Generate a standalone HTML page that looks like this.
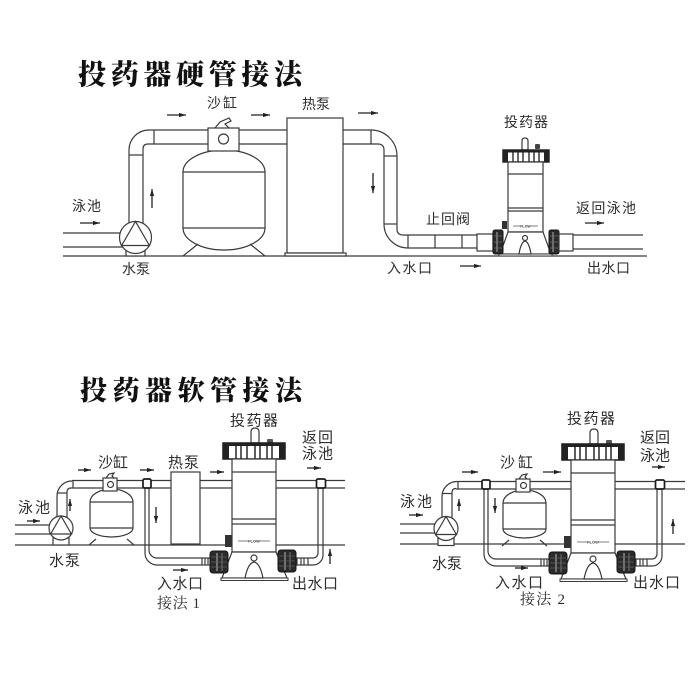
<!DOCTYPE html>
<html><head><meta charset="utf-8">
<style>
html,body{margin:0;padding:0;background:#fff;}
svg{display:block;}
.l{fill:none;stroke:#3a3a3a;stroke-width:1.2;}
.w{fill:#fff;stroke:#3a3a3a;stroke-width:1.2;}
.d{fill:#2a2a2a;stroke:#151515;stroke-width:1;}
.a{stroke:#222;stroke-width:1.3;marker-end:url(#ah);}
.t{font-family:"Liberation Sans","Noto Sans CJK SC",sans-serif;fill:#2e2e2e;}
.s{font-family:"Liberation Serif","Noto Serif CJK SC",serif;fill:#2e2e2e;}
.ttl{font-family:"Liberation Serif","Noto Serif CJK SC",serif;font-weight:900;fill:#111;}
</style></head><body>
<svg width="700" height="700" viewBox="0 0 700 700" xmlns="http://www.w3.org/2000/svg">
<defs>
<marker id="ah" viewBox="0 0 10 6" refX="10" refY="3" markerWidth="7" markerHeight="4.5" orient="auto" markerUnits="userSpaceOnUse"><path d="M0,0 L10,3 L0,6 Z" fill="#222"/></marker>

<!-- union nut -->
<g id="nutT">
<rect x="0" y="0" width="10" height="24" rx="2" class="d"/>
<line x1="4" y1="2" x2="4" y2="22" stroke="#bbb" stroke-width="0.9"/>
<line x1="1" y1="6" x2="9" y2="6" stroke="#777" stroke-width="0.7"/>
<line x1="1" y1="12" x2="9" y2="12" stroke="#777" stroke-width="0.7"/>
<line x1="1" y1="18" x2="9" y2="18" stroke="#777" stroke-width="0.7"/>
</g>
<g id="nutB">
<rect x="0" y="0" width="18" height="22" rx="3" class="d"/>
<line x1="7" y1="2" x2="7" y2="20" stroke="#bbb" stroke-width="1"/>
<line x1="12" y1="2" x2="12" y2="20" stroke="#888" stroke-width="0.8"/>
<line x1="1" y1="6" x2="17" y2="6" stroke="#666" stroke-width="0.7"/>
<line x1="1" y1="11" x2="17" y2="11" stroke="#666" stroke-width="0.7"/>
<line x1="1" y1="16" x2="17" y2="16" stroke="#666" stroke-width="0.7"/>
</g>

<!-- bottom feeder with hoses (diagram-1 coords) -->
<g id="fd">
<!-- left hose -->
<path class="l" d="M145,486 L145,553 A12,12 0 0 0 157,565 L202,565"/>
<path class="l" d="M149,486 L149,550 A8,8 0 0 0 157,558 L202,558"/>
<rect x="143" y="479" width="8" height="9" rx="1.5" fill="#fff" stroke="#1a1a1a" stroke-width="1.7"/>
<!-- right hose -->
<path class="l" d="M308,565 L313,565 A10,10 0 0 0 323,555 L323,486"/>
<path class="l" d="M308,558 L313,558 A5,5 0 0 0 318,553 L318,486"/>
<rect x="316.5" y="479" width="9" height="9" rx="1.5" fill="#fff" stroke="#1a1a1a" stroke-width="1.7"/>
<!-- knob -->
<path class="w" d="M251,443 L251,432 Q251,428 255,428 Q259,428 259,432 L259,443 Z"/>
<rect x="267" y="439" width="6" height="4" rx="1" fill="#555"/>
<!-- cap -->
<rect x="223" y="443" width="62" height="16" fill="#fff" stroke="#1a1a1a" stroke-width="1.5"/>
<rect x="223" y="443" width="62" height="3" fill="#222"/>
<rect x="223" y="443" width="6" height="16" fill="#222"/>
<rect x="279" y="443" width="6" height="16" fill="#222"/>
<g stroke="#1a1a1a" stroke-width="1.4">
<line x1="236" y1="445" x2="236" y2="459"/><line x1="241" y1="445" x2="241" y2="459"/>
<line x1="247" y1="445" x2="247" y2="459"/><line x1="255" y1="445" x2="255" y2="459"/>
<line x1="260" y1="445" x2="260" y2="459"/><line x1="267" y1="445" x2="267" y2="459"/>
<line x1="272" y1="445" x2="272" y2="459"/>
</g>
<!-- body -->
<rect class="w" x="232" y="459" width="44" height="93"/>
<line class="l" x1="232" y1="472" x2="276" y2="472"/>
<line class="l" x1="232" y1="519" x2="276" y2="519"/>
<line class="l" x1="232" y1="524" x2="276" y2="524"/>
<rect x="225" y="535" width="7" height="12" fill="#333"/>
<line x1="238" y1="541" x2="270" y2="541" stroke="#555" stroke-width="0.8"/>
<rect x="248" y="539" width="12" height="4" fill="#fff"/>
<text x="254" y="542.5" font-size="4" text-anchor="middle" font-family="Liberation Sans,sans-serif" font-weight="bold" fill="#333">FLOW</text>
<!-- base -->
<polygon class="w" points="232,552 276,552 287,578 222,578"/>
<rect x="221" y="578" width="67" height="2.5" fill="#fff" stroke="#3a3a3a" stroke-width="1"/>
<circle class="w" cx="254" cy="558" r="3"/>
<path class="w" d="M245,578 Q248,563 254,562 Q260,563 263,578 Z"/>
<!-- fittings -->
<rect class="w" x="202" y="558" width="10" height="7"/>
<line class="l" x1="205" y1="558" x2="205" y2="565"/><line class="l" x1="208" y1="558" x2="208" y2="565"/>
<rect class="w" x="297" y="558" width="11" height="7"/>
<line class="l" x1="301" y1="558" x2="301" y2="565"/><line class="l" x1="304" y1="558" x2="304" y2="565"/>
<use href="#nutB" x="210" y="551"/>
<use href="#nutB" x="278" y="550"/>
</g>

<!-- bottom sand filter -->
<g id="fl">
<path class="w" d="M90,502 A21.5,13 0 0 1 133,502 L133,528 A21.5,9 0 0 1 90,528 Z"/>
<line class="l" x1="90" y1="502" x2="133" y2="502"/>
<line class="l" x1="90" y1="528" x2="133" y2="528"/>
<path class="l" d="M89,545 L96,539 M134,545 L127,539"/>
<rect class="w" x="103" y="478" width="14" height="13"/>
<circle class="w" cx="110.5" cy="484.5" r="3"/>
<path class="l" d="M106,478 L109,474 L114,473 L112,476 L114,478"/>
</g>

<!-- bottom pump -->
<g id="pm">
<rect class="w" x="53" y="538" width="16" height="7"/>
<path class="l" d="M57,517 L57,496 A15,15 0 0 1 72,481"/>
<path class="l" d="M67,517 L67,492 Q67,488 71,488"/>
<line class="l" x1="73" y1="481" x2="73" y2="488"/>
<line class="l" x1="57" y1="493" x2="67" y2="493"/>
<circle class="w" cx="61" cy="528" r="12"/>
<polygon class="l" points="61,516 50.6,534 71.4,534"/>
</g>
</defs>

<!-- ============ TOP DIAGRAM ============ -->
<text class="ttl" x="78" y="84" font-size="28" textLength="224" lengthAdjust="spacing">投药器硬管接法</text>

<line class="l" x1="63" y1="256" x2="647" y2="256"/>
<line class="l" x1="63" y1="233" x2="130" y2="233"/>
<line class="l" x1="63" y1="247" x2="130" y2="247"/>

<path class="l" d="M129,224 L129,150 A20,20 0 0 1 149,130 L290,130"/>
<path class="l" d="M143,224 L143,149 Q143,144 148,144 L290,144"/>
<line class="l" x1="154" y1="130" x2="154" y2="144"/>
<line class="l" x1="129" y1="155" x2="143" y2="155"/>

<!-- pump -->
<rect class="w" x="126" y="247" width="19" height="9"/>
<circle class="w" cx="135.5" cy="237.5" r="16"/>
<polygon class="l" points="135.5,221.5 121.6,245.5 149.4,245.5"/>

<!-- sand filter -->
<path class="w" d="M183,172 A41,22 0 0 1 265,172 L265,228 A41,22 0 0 1 183,228 Z"/>
<line class="l" x1="183" y1="172" x2="265" y2="172"/>
<line class="l" x1="183" y1="228" x2="265" y2="228"/>
<path class="l" d="M183,256 L198,244 M265,256 L250,244"/>
<rect class="w" x="208" y="128" width="31" height="23"/>
<circle class="w" cx="223.5" cy="139" r="5"/>
<path class="l" d="M215,128 L220,122 L229,118 L231,121 L225,124 L229,128"/>

<!-- heat pump -->
<rect class="w" x="287" y="118" width="56" height="135"/>
<rect class="w" x="285" y="253" width="61" height="3"/>

<!-- right pipe -->
<path class="l" d="M343,130 L371,130 A26,26 0 0 1 397,156 L397,229 Q397,235 403,235 L477,235"/>
<path class="l" d="M343,144 L378,144 Q384,144 384,150 L384,224 A24,24 0 0 0 408,248 L477,248"/>
<line class="l" x1="371" y1="130" x2="371" y2="144"/>
<line class="l" x1="384" y1="156" x2="397" y2="156"/>
<line class="l" x1="384" y1="224" x2="397" y2="224"/>
<line class="l" x1="408" y1="235" x2="408" y2="248"/>
<line class="l" x1="435" y1="235" x2="435" y2="248"/>
<line class="l" x1="462" y1="235" x2="462" y2="248"/>
<rect class="w" x="477" y="234" width="16" height="17"/>

<!-- top feeder -->
<path class="w" d="M522,150 L522,141 Q522,138 525,138 Q528,138 528,141 L528,150 Z"/>
<rect x="535" y="144" width="5" height="5" rx="1" fill="#444"/>
<rect x="503" y="150" width="46" height="12" fill="#fff" stroke="#1a1a1a" stroke-width="1.4"/>
<rect x="503" y="150" width="46" height="2.5" fill="#222"/>
<rect x="503" y="150" width="5" height="12" fill="#222"/>
<rect x="544" y="150" width="5" height="12" fill="#222"/>
<g stroke="#1a1a1a" stroke-width="1.3">
<line x1="513" y1="152" x2="513" y2="162"/><line x1="518" y1="152" x2="518" y2="162"/>
<line x1="523" y1="152" x2="523" y2="162"/><line x1="529" y1="152" x2="529" y2="162"/>
<line x1="534" y1="152" x2="534" y2="162"/><line x1="539" y1="152" x2="539" y2="162"/>
</g>
<rect class="w" x="508" y="162" width="35" height="70"/>
<line class="l" x1="508" y1="174" x2="543" y2="174"/>
<line class="l" x1="508" y1="208" x2="543" y2="208"/>
<line class="l" x1="508" y1="211" x2="543" y2="211"/>
<rect x="502" y="221" width="5" height="8" fill="#333"/>
<line x1="513" y1="226" x2="538" y2="226" stroke="#555" stroke-width="0.8"/>
<rect x="520" y="224" width="11" height="4" fill="#fff"/>
<text x="525.5" y="227.5" font-size="3.6" text-anchor="middle" font-family="Liberation Sans,sans-serif" font-weight="bold" fill="#333">FLOW</text>
<polygon class="w" points="508,232 543,232 551,254 500,254"/>
<rect x="499" y="254" width="53" height="2" fill="#fff" stroke="#3a3a3a" stroke-width="1"/>
<circle class="w" cx="525" cy="238" r="2.5"/>
<path class="w" d="M519,254 Q521,242 525,241 Q529,242 531,254 Z"/>
<use href="#nutT" x="493" y="230"/>
<use href="#nutT" x="549" y="230"/>
<rect class="w" x="559" y="234" width="14" height="17"/>
<line class="l" x1="573" y1="235" x2="643" y2="235"/>
<line class="l" x1="573" y1="249" x2="643" y2="249"/>

<!-- top arrows -->
<line class="a" x1="167" y1="115" x2="186" y2="115"/>
<line class="a" x1="251" y1="115" x2="270" y2="115"/>
<line class="a" x1="358" y1="113" x2="378" y2="113"/>
<line class="a" x1="80" y1="223" x2="100" y2="223"/>
<line class="a" x1="152" y1="208" x2="152" y2="189"/>
<line class="a" x1="373" y1="173" x2="373" y2="193"/>
<line class="a" x1="585" y1="223" x2="604" y2="223"/>
<line class="a" x1="460" y1="266" x2="481" y2="266"/>

<!-- top labels -->
<text class="t" x="207" y="108" font-size="14" textLength="30" lengthAdjust="spacing">沙缸</text>
<text class="t" x="302" y="109" font-size="14" textLength="28" lengthAdjust="spacing">热泵</text>
<text class="t" x="504" y="127" font-size="14" textLength="44" lengthAdjust="spacing">投药器</text>
<text class="t" x="72" y="211" font-size="14" textLength="29" lengthAdjust="spacing">泳池</text>
<text class="t" x="122" y="274" font-size="14" textLength="28" lengthAdjust="spacing">水泵</text>
<text class="t" x="426" y="224" font-size="14" textLength="44" lengthAdjust="spacing">止回阀</text>
<text class="t" x="576" y="213" font-size="14" textLength="60" lengthAdjust="spacing">返回泳池</text>
<text class="t" x="387" y="273" font-size="14" textLength="45" lengthAdjust="spacing">入水口</text>
<text class="t" x="587" y="273" font-size="14" textLength="43" lengthAdjust="spacing">出水口</text>

<!-- ============ BOTTOM TITLE ============ -->
<text class="ttl" x="80" y="400" font-size="27" textLength="222" lengthAdjust="spacing">投药器软管接法</text>

<!-- ============ BOTTOM DIAGRAM 1 ============ -->
<line class="l" x1="15" y1="545" x2="345" y2="545"/>
<line class="l" x1="15" y1="525" x2="52" y2="525"/>
<line class="l" x1="15" y1="534" x2="52" y2="534"/>
<line class="l" x1="72" y1="480.5" x2="345" y2="480.5"/>
<line class="l" x1="71" y1="488" x2="345" y2="488"/>
<use href="#pm"/>
<use href="#fl"/>
<rect class="w" x="171" y="472" width="29" height="72"/>
<use href="#fd"/>

<line class="a" x1="78" y1="470" x2="91" y2="470"/>
<line class="a" x1="140" y1="470" x2="154" y2="470"/>
<line class="a" x1="210" y1="472" x2="224" y2="472"/>
<line class="a" x1="307" y1="468" x2="321" y2="468"/>
<line class="a" x1="27" y1="521" x2="40" y2="521"/>
<line class="a" x1="70" y1="511" x2="70" y2="499"/>
<line class="a" x1="156" y1="507" x2="156" y2="523"/>
<line class="a" x1="173" y1="570" x2="188" y2="570"/>
<line class="a" x1="330" y1="564" x2="330" y2="549"/>

<text class="t" x="230" y="425.5" font-size="15" textLength="48" lengthAdjust="spacing">投药器</text>
<text class="t" x="302" y="442.5" font-size="15" textLength="31" lengthAdjust="spacing">返回</text>
<text class="t" x="302" y="458.5" font-size="15" textLength="31" lengthAdjust="spacing">泳池</text>
<text class="t" x="98" y="467.5" font-size="15" textLength="30" lengthAdjust="spacing">沙缸</text>
<text class="t" x="168" y="467.5" font-size="15" textLength="31" lengthAdjust="spacing">热泵</text>
<text class="t" x="18" y="512.5" font-size="15" textLength="32" lengthAdjust="spacing">泳池</text>
<text class="t" x="49" y="565.5" font-size="15" textLength="31" lengthAdjust="spacing">水泵</text>
<text class="t" x="157" y="588.5" font-size="15" textLength="46" lengthAdjust="spacing">入水口</text>
<text class="s" x="157" y="608" font-size="15" textLength="43" lengthAdjust="spacing">接法 1</text>
<text class="t" x="292" y="588.5" font-size="15" textLength="46" lengthAdjust="spacing">出水口</text>

<!-- ============ BOTTOM DIAGRAM 2 ============ -->
<line class="l" x1="400" y1="544" x2="685" y2="544"/>
<line class="l" x1="400" y1="524" x2="438" y2="524"/>
<line class="l" x1="400" y1="533" x2="438" y2="533"/>
<line class="l" x1="457" y1="481.5" x2="685" y2="481.5"/>
<line class="l" x1="456" y1="489" x2="685" y2="489"/>
<use href="#pm" transform="translate(385,0.5)"/>
<use href="#fl" transform="translate(413,1)"/>
<use href="#fd" transform="translate(339,1)"/>

<line class="a" x1="462" y1="472" x2="478" y2="472"/>
<line class="a" x1="543" y1="472" x2="561" y2="472"/>
<line class="a" x1="652" y1="467" x2="665" y2="467"/>
<line class="a" x1="409" y1="515" x2="423" y2="515"/>
<line class="a" x1="459" y1="511" x2="459" y2="499"/>
<line class="a" x1="495" y1="498" x2="495" y2="513"/>
<line class="a" x1="673" y1="534" x2="673" y2="519"/>
<line class="a" x1="515" y1="568" x2="528" y2="568"/>

<text class="t" x="567" y="423.5" font-size="15" textLength="48" lengthAdjust="spacing">投药器</text>
<text class="t" x="640" y="442.5" font-size="15" textLength="30" lengthAdjust="spacing">返回</text>
<text class="t" x="640" y="460.5" font-size="15" textLength="30" lengthAdjust="spacing">泳池</text>
<text class="t" x="500" y="467.5" font-size="15" textLength="33" lengthAdjust="spacing">沙缸</text>
<text class="t" x="400" y="506.5" font-size="15" textLength="32" lengthAdjust="spacing">泳池</text>
<text class="t" x="432" y="568.5" font-size="15" textLength="30" lengthAdjust="spacing">水泵</text>
<text class="t" x="495" y="587.5" font-size="15" textLength="48" lengthAdjust="spacing">入水口</text>
<text class="s" x="520" y="604" font-size="15" textLength="45" lengthAdjust="spacing">接法 2</text>
<text class="t" x="633" y="587.5" font-size="15" textLength="47" lengthAdjust="spacing">出水口</text>
</svg>
</body></html>
